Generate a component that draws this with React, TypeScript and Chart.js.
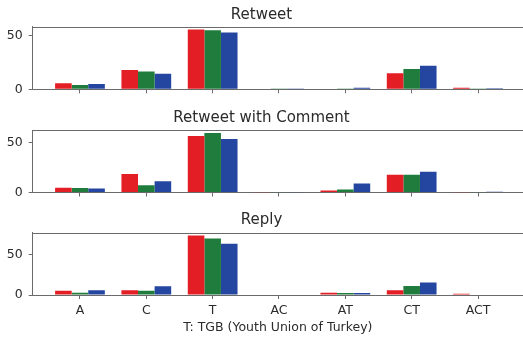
import React, { useEffect, useRef } from "react";
import { Chart, registerables } from "chart.js";

Chart.register(...registerables);

// Categories on the shared x axis
const categories = ["A", "C", "T", "AC", "AT", "CT", "ACT"];
const xAxisTitle = "T: TGB (Youth Union of Turkey)";

// Retweet
const retweetRed = [5.6, 18.1, 55.8, 0.6, 0.6, 15.0, 1.5];
const retweetGreen = [4.0, 16.5, 55.0, 0.2, 0.8, 19.0, 0.8];
const retweetBlue = [5.0, 14.4, 53.1, 0.1, 1.5, 21.9, 1.0];

// Retweet with Comment
const commentRed = [4.9, 18.6, 57.0, 0.3, 2.0, 18.0, 0.2];
const commentGreen = [4.5, 7.2, 60.0, 0.3, 3.0, 18.0, 0.3];
const commentBlue = [4.0, 11.4, 54.0, 0.2, 9.0, 21.0, 0.8];

// Reply
const replyRed = [5.4, 5.8, 73.8, 0.5, 2.9, 5.8, 1.5];
const replyGreen = [2.9, 5.4, 70.0, 0.5, 2.5, 11.2, 0.5];
const replyBlue = [5.8, 10.8, 63.5, 0.5, 2.5, 15.4, 0.5];

const yTicks = [0, 50];

const RED = "#e31e25";
const GREEN = "#1f7c3c";
const BLUE = "#2446a0";
const AXIS = "#6a6a6a";
const TEXT = "#2b2b2b";
const FONT = "'DejaVu Sans', sans-serif";

type PanelProps = {
  title: string;
  red: number[];
  green: number[];
  blue: number[];
  yMax: number;
  top: number;
  height: number;
  titleCenter: number;
  frameTop: number;
  zeroY: number;
  showLabels: boolean;
};

const topBorder = {
  id: "topBorder",
  afterDraw(chart: any) {
    const { ctx, chartArea } = chart;
    ctx.save();
    ctx.strokeStyle = AXIS;
    ctx.lineWidth = 1;
    ctx.beginPath();
    ctx.moveTo(chartArea.left, Math.round(chartArea.top) + 0.5);
    ctx.lineTo(chartArea.right, Math.round(chartArea.top) + 0.5);
    ctx.stroke();
    ctx.restore();
  },
};

function Panel(p: PanelProps) {
  const ref = useRef<HTMLCanvasElement | null>(null);

  useEffect(() => {
    if (!ref.current) return;
    const toPoints = (vals: number[]) => vals.map((v, i) => ({ x: i, y: v }));
    const titlePadTop = p.titleCenter - 9;
    const titlePadBottom = p.frameTop - titlePadTop - 18;
    const xHeight = p.height - p.zeroY;

    const chart = new Chart(ref.current, {
      type: "bar",
      data: {
        datasets: [
          { data: toPoints(p.red), backgroundColor: RED, borderWidth: 0 },
          { data: toPoints(p.green), backgroundColor: GREEN, borderWidth: 0 },
          { data: toPoints(p.blue), backgroundColor: BLUE, borderWidth: 0 },
        ],
      },
      options: {
        responsive: false,
        animation: false,
        layout: { padding: { left: 0, right: 0, top: 0, bottom: 0 } },
        datasets: {
          bar: { categoryPercentage: 0.75, barPercentage: 1.0, grouped: true },
        },
        plugins: {
          legend: { display: false },
          tooltip: { enabled: false },
          title: {
            display: true,
            text: p.title,
            color: TEXT,
            font: { family: FONT, size: 15, weight: "normal", lineHeight: 1.2 },
            padding: { top: titlePadTop, bottom: titlePadBottom },
          },
        },
        scales: {
          x: {
            type: "linear",
            min: -0.7125,
            max: 6.678,
            offset: false,
            grid: {
              offset: false,
              drawOnChartArea: false,
              drawTicks: true,
              tickLength: 4,
              tickColor: AXIS,
            },
            border: { display: true, color: AXIS, width: 1 },
            afterBuildTicks: (scale: any) => {
              scale.ticks = categories.map((_, i) => ({ value: i }));
            },
            ticks: {
              display: p.showLabels,
              autoSkip: false,
              maxRotation: 0,
              padding: 4,
              color: TEXT,
              font: { family: FONT, size: 12.5 },
              callback: (v: any) => categories[Math.round(Number(v))] ?? "",
            },
            title: {
              display: p.showLabels,
              text: xAxisTitle,
              color: TEXT,
              font: { family: FONT, size: 12.5, lineHeight: 1.2 },
              padding: { top: 0, bottom: 3.8 },
            },
            afterFit: (scale: any) => {
              scale.height = xHeight;
              scale.paddingLeft = 0;
              scale.paddingRight = 0;
            },
          },
          y: {
            type: "linear",
            min: 0,
            max: p.yMax,
            grid: {
              drawOnChartArea: false,
              drawTicks: true,
              tickLength: 4,
              tickColor: AXIS,
            },
            border: { display: true, color: AXIS, width: 1 },
            afterBuildTicks: (scale: any) => {
              scale.ticks = yTicks.map((v) => ({ value: v }));
            },
            ticks: {
              padding: 6,
              color: TEXT,
              font: { family: FONT, size: 12.5 },
            },
            afterFit: (scale: any) => {
              scale.width = 32.7;
              scale.paddingTop = 0;
              scale.paddingBottom = 0;
            },
          },
        },
      },
      plugins: [topBorder],
    } as any);

    return () => chart.destroy();
  }, []);

  return (
    <canvas
      ref={ref}
      width={523}
      height={p.height}
      style={{ position: "absolute", left: 0, top: p.top, width: 523, height: p.height }}
    />
  );
}

export default function App() {
  return (
    <div
      style={{
        position: "absolute",
        left: 0,
        top: 0,
        width: 523,
        height: 339,
        overflow: "hidden",
        background: "#ffffff",
      }}
    >
      <Panel
        title="Retweet"
        red={retweetRed}
        green={retweetGreen}
        blue={retweetBlue}
        yMax={58.6}
        top={0}
        height={100}
        titleCenter={15}
        frameTop={26.5}
        zeroY={89.3}
        showLabels={false}
      />
      <Panel
        title="Retweet with Comment"
        red={commentRed}
        green={commentGreen}
        blue={commentBlue}
        yMax={63}
        top={100}
        height={105}
        titleCenter={18}
        frameTop={30}
        zeroY={92.5}
        showLabels={false}
      />
      <Panel
        title="Reply"
        red={replyRed}
        green={replyGreen}
        blue={replyBlue}
        yMax={77.5}
        top={205}
        height={134}
        titleCenter={15}
        frameTop={27.5}
        zeroY={90}
        showLabels={true}
      />
    </div>
  );
}
